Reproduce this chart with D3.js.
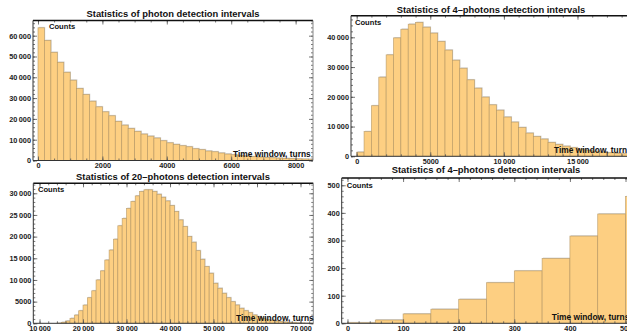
<!DOCTYPE html>
<html>
<head>
<meta charset="utf-8">
<script src="https://cdn.jsdelivr.net/npm/d3@7"></script>
<style>
  body { margin: 0; background: #fff; }
  svg { display: block; font-family: "Liberation Sans", Arial, sans-serif; }
  .tick text { font-size: 7.3px; font-weight: bold; fill: #222; }
  .tick line { stroke: #555; }
  .domain { display: none; }
</style>
</head>
<body>
<div id="chart"></div>
<script>
// histogram counts, one value per bin

// 1) single photon intervals, bins of 200 starting at 0
const photonBinWidth = 200;
const photonCounts = [63800, 57700, 52000, 47200, 42400, 38600, 34600, 31700, 28500, 25800,
  23400, 21500, 18800, 17000, 15400, 14000, 12700, 11700, 10800, 9500,
  8500, 7750, 7100, 6600, 5650, 5200, 4550, 4200, 3600, 3100,
  2750, 2450, 2150, 1900, 1650, 1450, 1300, 1150, 1000, 880,
  780, 680, 600];

// 2) 4-photon intervals, bins of 500 starting at 0
const four1BinWidth = 500;
const four1Counts = [1400, 8300, 17000, 26600, 34100, 39800, 42700, 44400, 45000, 43400,
  41400, 38600, 35700, 32300, 29600, 25700, 22900, 19900, 17300, 15500,
  13200, 11500, 9700, 7800, 6650, 5800, 4650, 4000, 3400, 2900,
  2400, 2000, 1700, 1400, 1200, 1000, 850];

// 3) 20-photon intervals, bins of 1000 starting at 14000
const twentyStart = 14000;
const twentyBinWidth = 1000;
const twentyCounts = [60, 230, 530, 1150, 1900, 2900, 4200, 5900, 7500, 10000,
  12100, 14600, 16900, 19400, 22500, 24200, 26500, 28100, 29400, 30400,
  30800, 30800, 30400, 29770, 29080, 28230, 27150, 25770, 23850, 22300,
  20000, 18700, 16760, 14770, 13070, 11540, 9230, 8080, 6920, 5900,
  4980, 4220, 3460, 2900, 2450, 1920, 1540, 1150, 900, 700,
  520, 400, 300, 220, 160, 110, 80, 50, 30];

// 4) 4-photon intervals, zoom on short windows, bins of 50 starting at 0
const four2BinWidth = 50;
const four2Counts = [2, 12, 34, 51, 87, 147, 190, 235, 316, 396, 459];

// tick values
const p1XTicks = [0, 2000, 4000, 6000, 8000];
const p1YTicks = [0, 10000, 20000, 30000, 40000, 50000, 60000];
const p2XTicks = [0, 5000, 10000, 15000];
const p2YTicks = [0, 10000, 20000, 30000, 40000];
const p3XTicks = [10000, 20000, 30000, 40000, 50000, 60000, 70000];
const p3YTicks = [0, 5000, 10000, 15000, 20000, 25000, 30000];
const p4XTicks = [0, 100, 200, 300, 400, 500];
const p4YTicks = [0, 100, 200, 300, 400, 500];

const W = 627, H = 334;
const svg = d3.select('#chart').append('svg')
  .attr('width', W).attr('height', H);
svg.append('rect').attr('width', W).attr('height', H).attr('fill', '#fff');

const fmt = v => v >= 10000 ? d3.format(',')(v).replace(/,/g, '\u2009') : String(v);

function panel(o, id) {
  const x = d3.scaleLinear().domain(o.xDomain).range([o.left, o.right]);
  const y = d3.scaleLinear().domain([0, o.yMax]).range([o.bottom, o.top]);
  const g = svg.append('g');

  // title
  g.append('text')
    .attr('x', o.titleX).attr('y', o.titleY)
    .attr('text-anchor', 'middle')
    .attr('font-size', '9.4px').attr('font-weight', 'bold').attr('fill', '#111')
    .text(o.title);

  g.append('clipPath').attr('id', 'clip' + id)
    .append('rect')
    .attr('x', o.left).attr('y', o.top)
    .attr('width', o.right - o.left).attr('height', o.bottom - o.top);

  const bins = o.counts.map((c, i) => ({
    x0: o.start + i * o.binWidth,
    x1: o.start + (i + 1) * o.binWidth,
    c: c
  }));

  const plot = g.append('g').attr('clip-path', `url(#clip${id})`);
  // light grey shadow behind each bar
  plot.selectAll('.shadow')
    .data(bins)
    .join('rect')
    .attr('class', 'shadow')
    .attr('x', d => x(d.x0) + 0.8)
    .attr('y', d => y(d.c) - 0.9)
    .attr('width', d => x(d.x1) - x(d.x0))
    .attr('height', d => y(0) - y(d.c))
    .attr('fill', '#d6d6d6');
  plot.selectAll('.bar')
    .data(bins)
    .join('rect')
    .attr('class', 'bar')
    .attr('x', d => x(d.x0))
    .attr('y', d => y(d.c))
    .attr('width', d => x(d.x1) - x(d.x0))
    .attr('height', d => y(0) - y(d.c))
    .attr('fill', '#fdcf82')
    .attr('stroke', '#b39561')
    .attr('stroke-opacity', 0.8)
    .attr('stroke-width', 0.7);

  // minor ticks
  const minor = (lo, hi, step) => d3.range(Math.ceil(lo / step) * step, hi, step);
  const xm = minor(o.xDomain[0], o.xDomain[1], o.xMinor);
  const ym = minor(0, o.yMax, o.yMinor);

  const axes = g.append('g');
  axes.append('g').attr('transform', `translate(0,${o.bottom})`)
    .call(d3.axisBottom(x).tickValues(xm).tickSize(-2).tickFormat(''));
  axes.append('g').attr('transform', `translate(0,${o.top})`)
    .call(d3.axisTop(x).tickValues(xm).tickSize(-2).tickFormat(''));
  axes.append('g').attr('transform', `translate(${o.left},0)`)
    .call(d3.axisLeft(y).tickValues(ym).tickSize(-2).tickFormat(''));
  axes.append('g').attr('transform', `translate(${o.right},0)`)
    .call(d3.axisRight(y).tickValues(ym).tickSize(-2).tickFormat(''));

  // major ticks with labels
  axes.append('g').attr('transform', `translate(0,${o.bottom})`)
    .call(d3.axisBottom(x).tickValues(o.xTicks).tickSize(-4).tickPadding(2.3).tickFormat(fmt));
  axes.append('g').attr('transform', `translate(0,${o.top})`)
    .call(d3.axisTop(x).tickValues(o.xTicks).tickSize(-4).tickFormat(''));
  axes.append('g').attr('transform', `translate(${o.left},0)`)
    .call(d3.axisLeft(y).tickValues(o.yTicks).tickSize(-4).tickPadding(2).tickFormat(fmt));
  axes.append('g').attr('transform', `translate(${o.right},0)`)
    .call(d3.axisRight(y).tickValues(o.yTicks).tickSize(-4).tickFormat(''));
  axes.selectAll('.tick line').attr('stroke-width', 0.8);

  // frame
  g.append('line').attr('x1', o.left).attr('x2', o.right).attr('y1', o.top).attr('y2', o.top)
    .attr('stroke', '#111').attr('stroke-width', 1.4);
  g.append('line').attr('x1', o.left).attr('x2', o.right).attr('y1', o.bottom).attr('y2', o.bottom)
    .attr('stroke', '#333').attr('stroke-width', 1);
  g.append('line').attr('x1', o.left).attr('x2', o.left).attr('y1', o.top).attr('y2', o.bottom)
    .attr('stroke', '#333').attr('stroke-width', 1);
  g.append('line').attr('x1', o.right).attr('x2', o.right).attr('y1', o.top).attr('y2', o.bottom)
    .attr('stroke', '#888').attr('stroke-width', 1);

  // frame labels
  g.append('text')
    .attr('x', o.countsX).attr('y', o.countsY)
    .attr('font-size', '7.6px').attr('font-weight', 'bold').attr('fill', '#111')
    .text('Counts');
  g.append('text')
    .attr('x', o.timeX).attr('y', o.timeY)
    .attr('font-size', '8.4px').attr('font-weight', 'bold').attr('fill', '#111')
    .text('Time window, turns');
}

panel({
  title: 'Statistics of photon detection intervals', titleX: 173, titleY: 17,
  left: 33, right: 313, top: 20.5, bottom: 160.5,
  xDomain: [-155, 8540], yMax: 67300,
  start: 0, binWidth: photonBinWidth, counts: photonCounts,
  xTicks: p1XTicks, yTicks: p1YTicks, xMinor: 500, yMinor: 2000,
  countsX: 49, countsY: 29, timeX: 233, timeY: 156.5
}, 1);

panel({
  title: 'Statistics of 4\u2013photons detection intervals', titleX: 491, titleY: 12.5,
  left: 351, right: 660, top: 15.7, bottom: 156.3,
  xDomain: [-387, 20605], yMax: 47260,
  start: 0, binWidth: four1BinWidth, counts: four1Counts,
  xTicks: p2XTicks, yTicks: p2YTicks, xMinor: 1000, yMinor: 2000,
  countsX: 355, countsY: 25, timeX: 554, timeY: 152.5
}, 2);

panel({
  title: 'Statistics of 20\u2013photons detection intervals', titleX: 173, titleY: 180,
  left: 33.3, right: 313.3, top: 183.3, bottom: 323.3,
  xDomain: [8570, 72940], yMax: 32300,
  start: twentyStart, binWidth: twentyBinWidth, counts: twentyCounts,
  xTicks: p3XTicks, yTicks: p3YTicks, xMinor: 2000, yMinor: 1000,
  countsX: 38, countsY: 192.3, timeX: 236, timeY: 320.5
}, 3);

panel({
  title: 'Statistics of 4\u2013photons detection intervals', titleX: 486, titleY: 173,
  left: 341.7, right: 660, top: 178, bottom: 323.3,
  xDomain: [-10.4, 562], yMax: 526.4,
  start: 0, binWidth: four2BinWidth, counts: four2Counts,
  xTicks: p4XTicks, yTicks: p4YTicks, xMinor: 20, yMinor: 20,
  countsX: 346.7, countsY: 187.7, timeX: 551.7, timeY: 320
}, 4);
</script>
</body>
</html>
